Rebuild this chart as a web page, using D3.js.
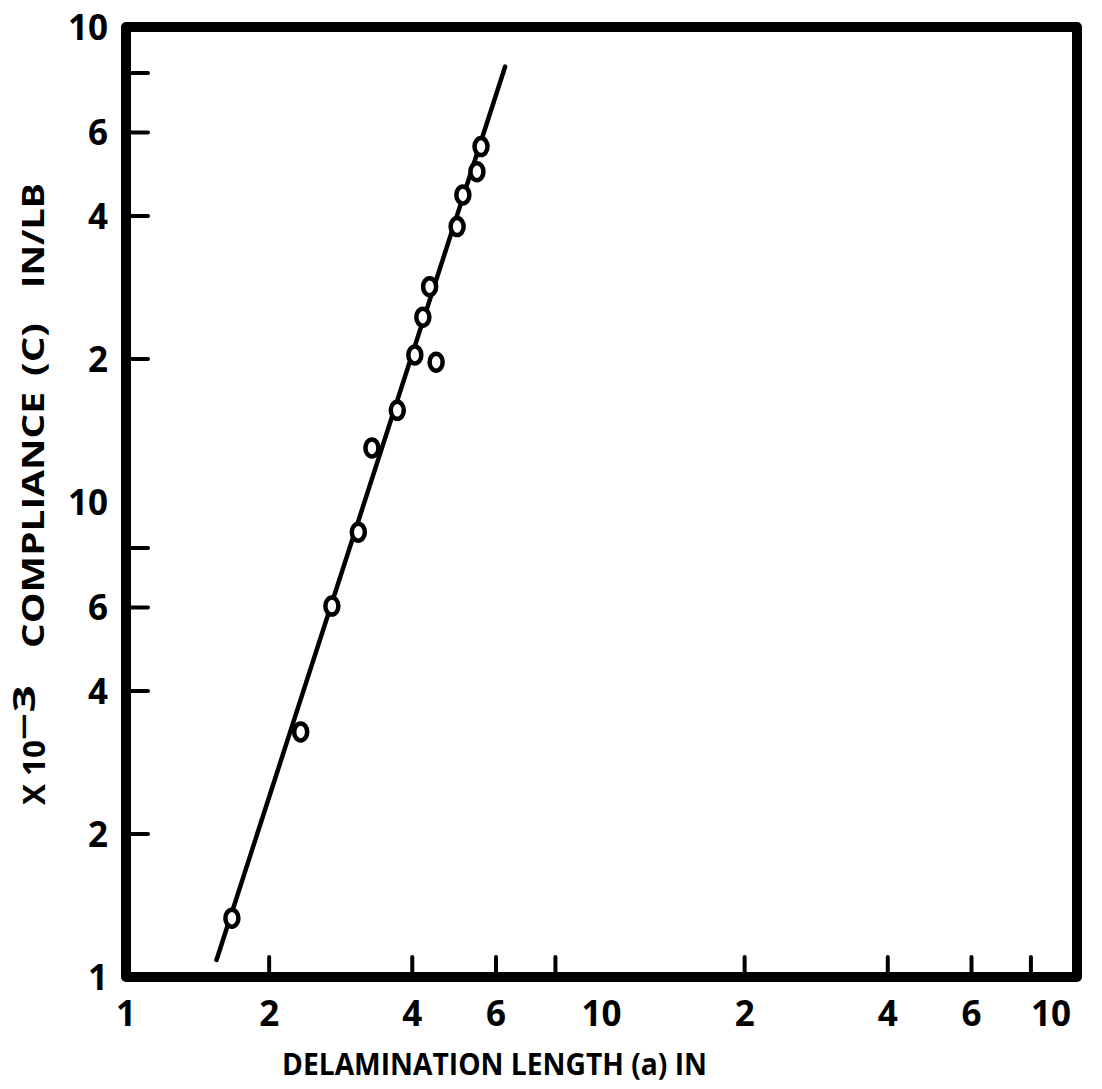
<!DOCTYPE html>
<html lang="en">
<head>
    <meta charset="UTF-8">
    <title>Compliance vs Delamination Length</title>
    <style>
        body { margin: 0; background: #fff; }
        text { font-family: 'Open Sans', 'Liberation Sans', sans-serif; font-weight: 700; fill: #000; }
    </style>
</head>
<body>
    <script src="https://cdn.jsdelivr.net/npm/d3@7"></script>
    <script>
        const svg_w = 1102;
        const svg_h = 1089;

        // measured points, delamination length a (in) vs compliance (x10^-3 in/lb)
        const lengths = [1.67, 2.33, 2.71, 3.08, 3.29, 3.72, 4.05, 4.49, 4.21, 4.35, 4.97, 5.11, 5.47, 5.58];
        const compliance = [1.33, 3.28, 6.04, 8.64, 13.0, 15.6, 20.4, 19.7, 24.5, 28.4, 38.0, 44.3, 49.6, 56.0];

        // fitted straight line (log-log), end points
        const fit_a = [1.55, 6.27];
        const fit_c = [1.086, 82.5];

        const tick_vals = [2, 4, 6, 8, 20, 40, 60, 80];
        const label_vals = [1, 2, 4, 6, 10, 20, 40, 60, 100];
        const label_text = ['1', '2', '4', '6', '10', '2', '4', '6', '10'];

        const x = d3.scaleLog().domain([1, 100]).range([126, 1077]);
        const y = d3.scaleLog().domain([1, 100]).range([977, 27]);

        const svg = d3.select('body')
            .append('svg')
            .attr('width', svg_w)
            .attr('height', svg_h)
            .style('background-color', 'white');

        // frame
        svg.append('rect')
            .attr('x', x(1))
            .attr('y', y(100))
            .attr('width', x(100) - x(1))
            .attr('height', y(1) - y(100))
            .attr('fill', 'none')
            .attr('stroke', '#000')
            .attr('stroke-width', 10)
            .attr('stroke-linejoin', 'round');

        // inner ticks
        svg.selectAll('line.xtick')
            .data(tick_vals)
            .enter()
            .append('line')
            .attr('class', 'xtick')
            .attr('x1', d => x(d))
            .attr('x2', d => x(d))
            .attr('y1', y(1) - 5)
            .attr('y2', y(1) - 20)
            .attr('stroke', '#000')
            .attr('stroke-width', 4)
            .attr('stroke-linecap', 'round');

        svg.selectAll('line.ytick')
            .data(tick_vals)
            .enter()
            .append('line')
            .attr('class', 'ytick')
            .attr('x1', x(1) + 5)
            .attr('x2', x(1) + 22)
            .attr('y1', d => y(d))
            .attr('y2', d => y(d))
            .attr('stroke', '#000')
            .attr('stroke-width', 4)
            .attr('stroke-linecap', 'round');

        // tick labels
        svg.selectAll('text.xlab')
            .data(label_vals)
            .enter()
            .append('text')
            .attr('class', 'xlab')
            .attr('x', (d, i) => x(d) + (i === label_vals.length - 1 ? -26 : 0))
            .attr('y', 1026)
            .attr('text-anchor', 'middle')
            .attr('font-size', '35px')
            .text((d, i) => label_text[i]);

        svg.selectAll('text.ylab')
            .data(label_vals)
            .enter()
            .append('text')
            .attr('class', 'ylab')
            .attr('x', 108)
            .attr('y', d => y(d))
            .attr('dy', '0.36em')
            .attr('text-anchor', 'end')
            .attr('font-size', '35px')
            .text((d, i) => label_text[i]);

        // axis titles
        svg.append('text')
            .attr('x', 282)
            .attr('y', 1075)
            .attr('font-size', '31px')
            .attr('textLength', 425)
            .attr('lengthAdjust', 'spacingAndGlyphs')
            .text('DELAMINATION LENGTH (a) IN');

        const ytitle = [
            { t: 'X 10', start: 805, len: 65, base: 45 },
            { t: '\u22123', start: 740, len: 55, base: 35 },
            { t: 'COMPLIANCE', start: 648, len: 256, base: 44 },
            { t: '(C)', start: 376, len: 53, base: 44 },
            { t: 'IN/LB', start: 288, len: 105, base: 44 }
        ];
        svg.selectAll('text.ytitle')
            .data(ytitle)
            .enter()
            .append('text')
            .attr('class', 'ytitle')
            .attr('transform', d => `translate(${d.base},${d.start}) rotate(-90)`)
            .attr('font-size', '31px')
            .attr('textLength', d => d.len)
            .attr('lengthAdjust', 'spacingAndGlyphs')
            .text(d => d.t);

        // fit line
        const line = d3.line()
            .x(d => x(d[0]))
            .y(d => y(d[1]));

        svg.append('path')
            .datum(d3.zip(fit_a, fit_c))
            .attr('d', line)
            .attr('fill', 'none')
            .attr('stroke', '#000')
            .attr('stroke-width', 4.5)
            .attr('stroke-linecap', 'round');

        // data points
        svg.selectAll('ellipse')
            .data(d3.zip(lengths, compliance))
            .enter()
            .append('ellipse')
            .attr('cx', d => x(d[0]))
            .attr('cy', d => y(d[1]))
            .attr('rx', 6.5)
            .attr('ry', 8.5)
            .attr('fill', 'white')
            .attr('stroke', '#000')
            .attr('stroke-width', 4.5);
    </script>
</body>
</html>
